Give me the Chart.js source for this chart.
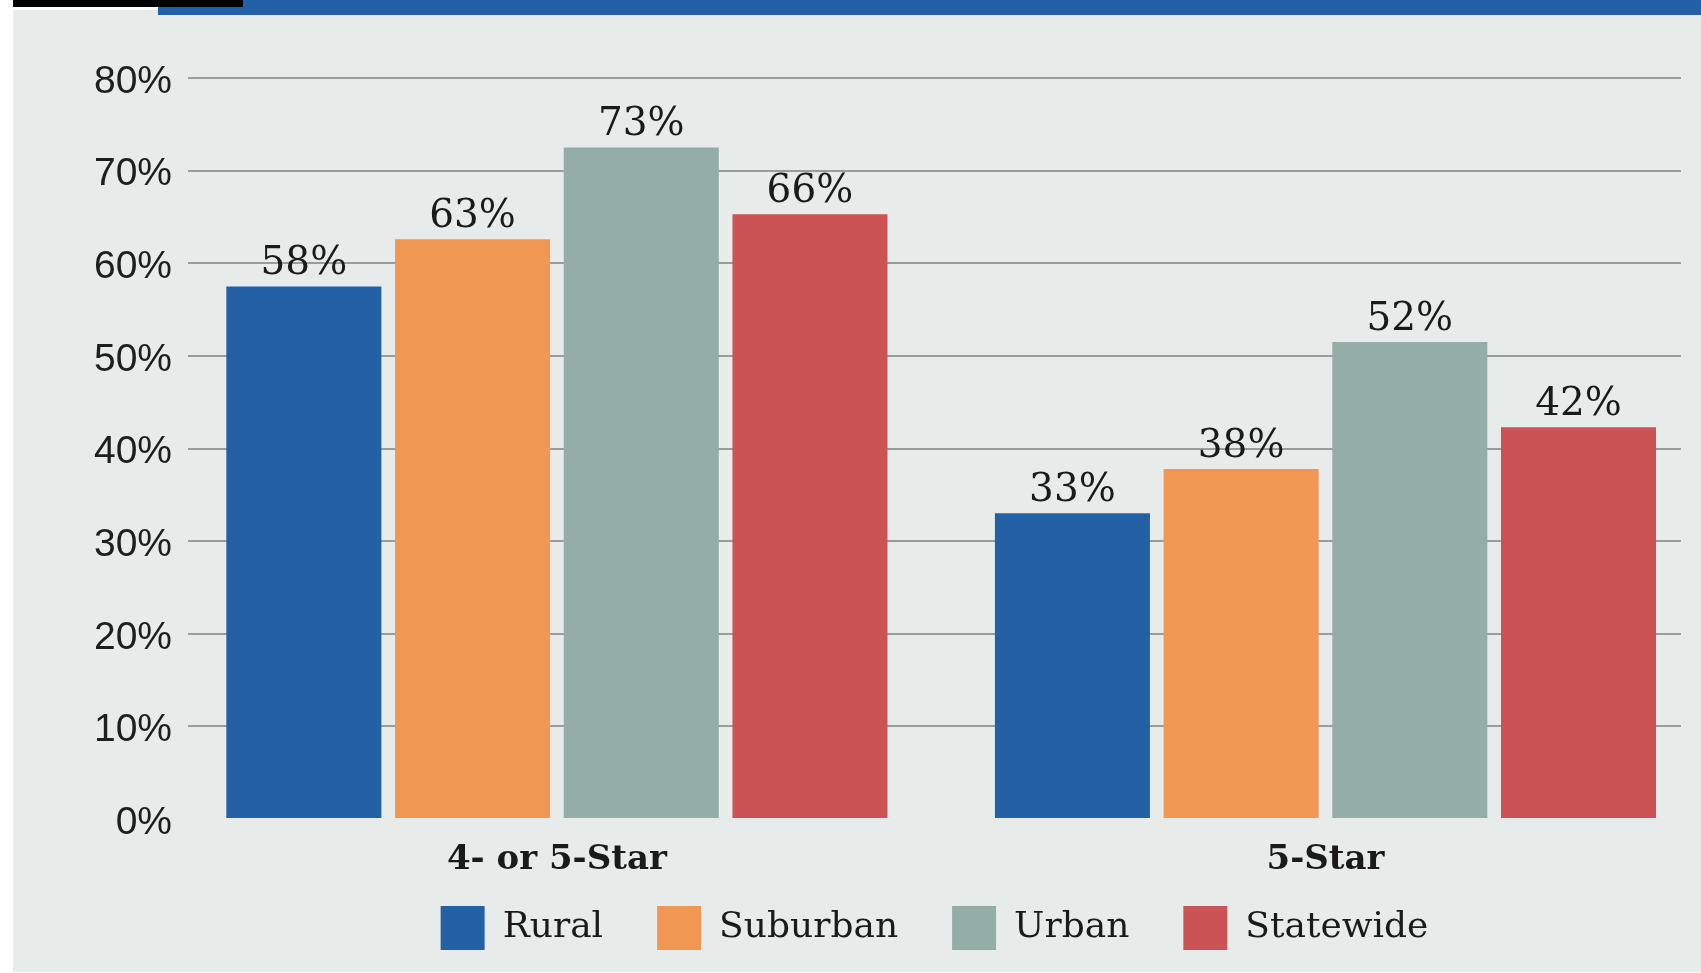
<!DOCTYPE html>
<html>
<head>
<meta charset="utf-8">
<title>Star ratings by locale</title>
<script src="https://cdn.jsdelivr.net/npm/chart.js@4.4.1/dist/chart.umd.min.js"></script>
<style>
    body { margin: 0; background: #fff; width: 1701px; height: 973px; position: relative; overflow: hidden; }
    #panel { position: absolute; left: 13px; top: 10px; right: 0; bottom: 1px; background: #e7ecea; }
    #blueBar { position: absolute; left: 158px; top: 0; right: 0; height: 15px; background: #2360a8; }
    #blackBar { position: absolute; left: 13px; top: 0; width: 230px; height: 7px; background: #000; }
    #wrap { position: absolute; left: 0; top: 16px; width: 1701px; height: 944px; }
</style>
</head>
<body>
<div id="panel"></div>
<div id="blueBar"></div>
<div id="blackBar"></div>
<div id="wrap"><canvas id="starChart"></canvas></div>
<script>
// categories and series
const categories = ['4- or 5-Star', '5-Star'];
const seriesNames = ['Rural', 'Suburban', 'Urban', 'Statewide'];
const seriesColors = ['#2360a5', '#f09753', '#94ada6', '#cb5356'];

// bar heights as drawn
const rural = [57.5, 33.0];
const suburban = [62.6, 37.8];
const urban = [72.5, 51.5];
const statewide = [65.3, 42.3];

// printed labels above the bars
const ruralLabels = ['58%', '33%'];
const suburbanLabels = ['63%', '38%'];
const urbanLabels = ['73%', '52%'];
const statewideLabels = ['66%', '42%'];

const yTicks = [0, 10, 20, 30, 40, 50, 60, 70, 80];

const seriesValues = [rural, suburban, urban, statewide];
const seriesLabels = [ruralLabels, suburbanLabels, urbanLabels, statewideLabels];

// value labels on top of each bar
const barLabels = {
    id: 'barLabels',
    afterDatasetsDraw(chart) {
        const ctx = chart.ctx;
        ctx.save();
        ctx.font = '39px "DejaVu Serif", serif';
        ctx.fillStyle = '#1a1a1a';
        ctx.textAlign = 'center';
        ctx.textBaseline = 'alphabetic';
        chart.data.datasets.forEach((ds, di) => {
            chart.getDatasetMeta(di).data.forEach((bar, i) => {
                ctx.fillText(seriesLabels[di][i], bar.x, bar.y - 12);
            });
        });
        ctx.restore();
    }
};

const ctx = document.getElementById('starChart').getContext('2d');
new Chart(ctx, {
    type: 'bar',
    data: {
        datasets: seriesNames.map((name, si) => ({
            label: name,
            data: categories.map((c, i) => ({ x: i, y: seriesValues[si][i] })),
            backgroundColor: seriesColors[si],
            borderWidth: 0,
            categoryPercentage: 0.878,
            barPercentage: 0.919
        }))
    },
    options: {
        responsive: true,
        maintainAspectRatio: false,
        animation: false,
        layout: { padding: { top: 62, right: 20, bottom: 0, left: 0 } },
        plugins: {
            tooltip: { enabled: false },
            legend: {
                position: 'bottom',
                fullSize: false,
                labels: {
                    boxWidth: 44,
                    boxHeight: 44,
                    padding: 54,
                    color: '#1a1a1a',
                    font: { family: '"DejaVu Serif", serif', size: 36 }
                }
            }
        },
        scales: {
            x: {
                type: 'linear',
                offset: false,
                min: -0.48,
                max: 1.4626,
                grid: { display: false },
                border: { display: false },
                afterBuildTicks: axis => {
                    axis.ticks = categories.map((c, i) => ({ value: i }));
                },
                afterFit: axis => { axis.height = 33; },
                ticks: {
                    // mirrored so the labels are not clipped to the thin axis box
                    mirror: true,
                    padding: -62,
                    color: '#1a1a1a',
                    font: { family: '"DejaVu Serif", serif', size: 34, weight: 'bold' },
                    callback: v => categories[v]
                }
            },
            y: {
                min: 0,
                max: 80,
                border: { display: false },
                afterFit: axis => { axis.width = 188; },
                afterBuildTicks: axis => {
                    axis.ticks = yTicks.map(v => ({ value: v }));
                },
                grid: {
                    drawTicks: false,
                    lineWidth: 2,
                    color: c => (c.tick && c.tick.value === 0) ? 'rgba(0,0,0,0)' : '#9a9c9b'
                },
                ticks: {
                    padding: 16,
                    labelOffset: 4,
                    color: '#1e1e1e',
                    font: { family: '"Liberation Sans Narrow", "Liberation Sans", sans-serif', size: 39 },
                    callback: v => v + '%'
                }
            }
        }
    },
    plugins: [barLabels]
});
</script>
</body>
</html>
